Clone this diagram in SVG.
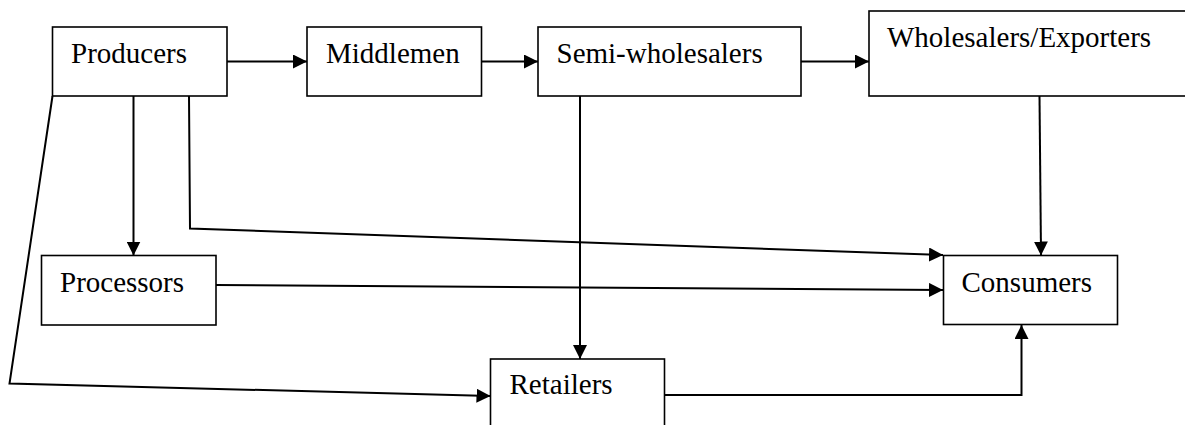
<svg xmlns="http://www.w3.org/2000/svg" width="1185" height="425" viewBox="0 0 1185 425">
<style>
.box{fill:#fff;stroke:#000;stroke-width:1.6}
.lbl{font-size:29px;fill:#000}
.con{fill:none;stroke:#000;stroke-width:2}
</style>
<defs>
<marker id="ah" markerUnits="userSpaceOnUse" markerWidth="14" markerHeight="14" viewBox="0 0 14 14" refX="14" refY="7" orient="auto">
<path d="M0,0 L14,7 L0,14 Z" fill="#000"/>
</marker>
</defs>
<rect width="1185" height="425" fill="#fff"/>
<g id="connectors">
<line class="con" x1="227" y1="61.5" x2="307" y2="61.5" marker-end="url(#ah)"/>
<line class="con" x1="482" y1="61.5" x2="538" y2="61.5" marker-end="url(#ah)"/>
<line class="con" x1="801" y1="61.5" x2="869" y2="61.5" marker-end="url(#ah)"/>
<line class="con" x1="133.5" y1="96" x2="133.5" y2="255.5" marker-end="url(#ah)"/>
<polyline class="con" points="189,96 190,228.5 943,255" marker-end="url(#ah)"/>
<line class="con" x1="216" y1="285" x2="943" y2="290" marker-end="url(#ah)"/>
<line class="con" x1="580" y1="96" x2="580" y2="359" marker-end="url(#ah)"/>
<line class="con" x1="1039.5" y1="96" x2="1041" y2="255.5" marker-end="url(#ah)"/>
<polyline class="con" points="52.5,96 9.5,383.5 490.5,396" marker-end="url(#ah)"/>
<polyline class="con" points="664,395 1021.5,395 1021.5,325" marker-end="url(#ah)"/>
</g>
<g font-family="'Liberation Serif', 'Times New Roman', serif">
<g id="producers">
<rect class="box" x="52.5" y="27" width="174.5" height="69"/>
<text class="lbl" x="71" y="63">Producers</text>
</g>
<g id="middlemen">
<rect class="box" x="307" y="27" width="174.5" height="69"/>
<text class="lbl" x="326" y="63">Middlemen</text>
</g>
<g id="semi-wholesalers">
<rect class="box" x="538" y="27" width="263" height="69"/>
<text class="lbl" x="556.5" y="63">Semi-wholesalers</text>
</g>
<g id="wholesalers">
<rect class="box" x="869" y="11" width="330" height="85"/>
<text class="lbl" x="887" y="47">Wholesalers/Exporters</text>
</g>
<g id="processors">
<rect class="box" x="41.5" y="255.5" width="174.5" height="69.5"/>
<text class="lbl" x="60" y="291.5">Processors</text>
</g>
<g id="consumers">
<rect class="box" x="943.5" y="255.5" width="174" height="69"/>
<text class="lbl" x="961.5" y="291.5">Consumers</text>
</g>
<g id="retailers">
<rect class="box" x="490.5" y="359" width="174" height="80"/>
<text class="lbl" x="509.5" y="394">Retailers</text>
</g>
</g>
</svg>
